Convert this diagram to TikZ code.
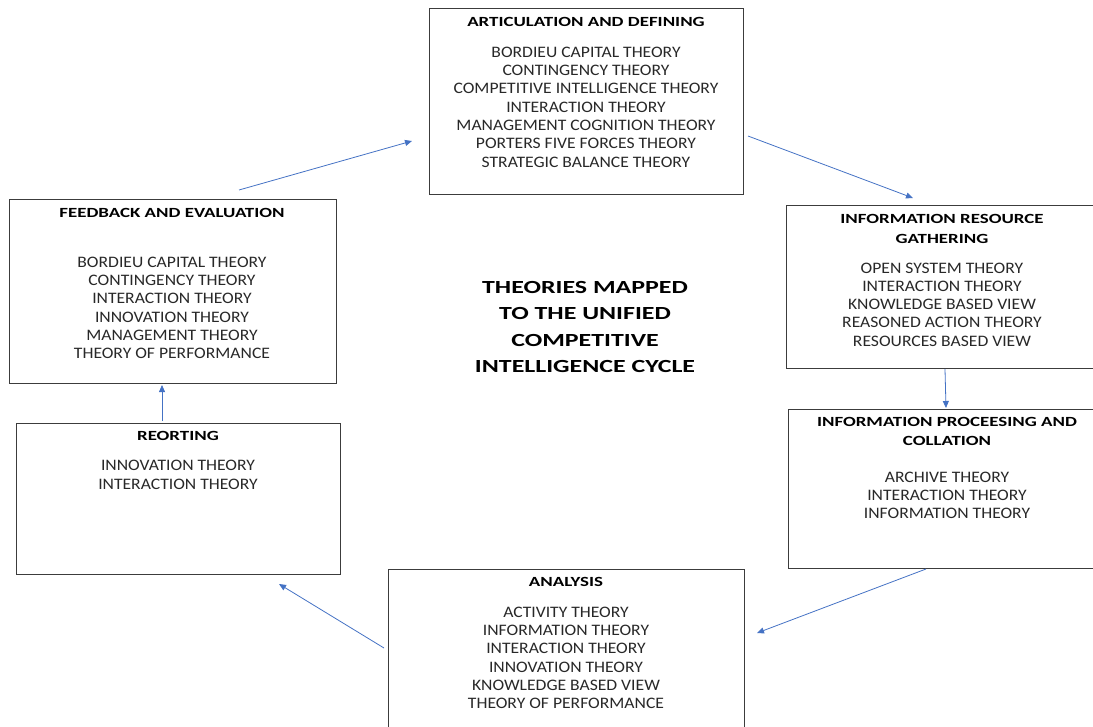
\documentclass[tikz,border=0pt]{standalone}
\usepackage{fontspec}
\setmainfont{Carlito}
\newfontfamily\bodyfont[FakeStretch=1.10]{Carlito}
\newfontfamily\headfont[FakeStretch=1.35]{Carlito}
\newfontfamily\titlefont[FakeStretch=1.40]{Carlito}
\usetikzlibrary{arrows.meta}
\definecolor{arrowblue}{RGB}{68,114,196}
\definecolor{boxline}{RGB}{60,60,60}
\definecolor{bodytext}{RGB}{40,40,40}
\tikzset{
  x=1pt, y=-1pt,
  stagebox/.style={draw=boxline, line width=1pt, inner sep=0pt, anchor=north west},
  heading/.style={font=\headfont\bfseries\fontsize{14}{19.5}\selectfont, align=center, text=black, inner sep=0pt},
  body/.style={font=\bodyfont\fontsize{16}{18.3}\selectfont, align=center, text=bodytext, inner sep=0pt},
  maintitle/.style={font=\titlefont\bfseries\fontsize{18.5}{26.5}\selectfont, align=center, text=black, inner sep=0pt},
  flow/.style={draw=arrowblue, line width=0.8pt, -{Triangle[length=7pt,width=6pt]}},
}
\begin{document}
\begin{tikzpicture}
\useasboundingbox (0,0) rectangle (1093,726);

% stage frames
\node[stagebox, minimum width=314pt, minimum height=186pt] (artbox) at (429,8) {};
\node[stagebox, minimum width=312pt, minimum height=163pt] (gatbox) at (786,205) {};
\node[stagebox, minimum width=318pt, minimum height=159pt] (procbox) at (788,409) {};
\node[stagebox, minimum width=356pt, minimum height=170pt] (anabox) at (388,569) {};
\node[stagebox, minimum width=324pt, minimum height=151pt] (repbox) at (16,423) {};
\node[stagebox, minimum width=327pt, minimum height=184pt] (feedbox) at (9,199) {};

% articulation and defining
\node[heading] (arthead) at (586,22) {ARTICULATION AND DEFINING};
\node[body] (artlist) at (586,107) {BORDIEU CAPITAL THEORY\\CONTINGENCY THEORY\\COMPETITIVE INTELLIGENCE THEORY\\INTERACTION THEORY\\MANAGEMENT COGNITION THEORY\\PORTERS FIVE FORCES THEORY\\STRATEGIC BALANCE THEORY};

% information resource gathering
\node[heading] (gathead) at (942,229) {INFORMATION RESOURCE\\GATHERING};
\node[body] (gatlist) at (942,304.5) {OPEN SYSTEM THEORY\\INTERACTION THEORY\\KNOWLEDGE BASED VIEW\\REASONED ACTION THEORY\\RESOURCES BASED VIEW};

% information processing and collation
\node[heading] (prochead) at (947,431.5) {INFORMATION PROCEESING AND\\COLLATION};
\node[body] (proclist) at (947,495.5) {ARCHIVE THEORY\\INTERACTION THEORY\\INFORMATION THEORY};

% analysis
\node[heading] (anahead) at (566,582) {ANALYSIS};
\node[body] (analist) at (566,658) {ACTIVITY THEORY\\INFORMATION THEORY\\INTERACTION THEORY\\INNOVATION THEORY\\KNOWLEDGE BASED VIEW\\THEORY OF PERFORMANCE};

% reporting
\node[heading] (rephead) at (178,436) {REORTING};
\node[body] (replist) at (178,475) {INNOVATION THEORY\\INTERACTION THEORY};

% feedback and evaluation
\node[heading] (feedhead) at (172,213) {FEEDBACK AND EVALUATION};
\node[body] (feedlist) at (172,308) {BORDIEU CAPITAL THEORY\\CONTINGENCY THEORY\\INTERACTION THEORY\\INNOVATION THEORY\\MANAGEMENT THEORY\\THEORY OF PERFORMANCE};

% centre caption
\node[maintitle] (caption) at (585,327) {THEORIES MAPPED\\TO THE UNIFIED\\COMPETITIVE\\INTELLIGENCE CYCLE};

% connector end points, just off the frames
\coordinate (feedout) at (239,190);
\coordinate (artin) at (412,141);
\coordinate (artout) at (748,136);
\coordinate (gatin) at (913,198);
\coordinate (gatout) at (945,369);
\coordinate (procin) at (946,408);
\coordinate (procout) at (926,569);
\coordinate (anain) at (757,633);
\coordinate (anaout) at (384,648);
\coordinate (repin) at (279,584);
\coordinate (repout) at (162,421);
\coordinate (feedin) at (162,385);

% cycle connectors
\draw[flow] (feedout) -- (artin);
\draw[flow] (artout) -- (gatin);
\draw[flow] (gatout) -- (procin);
\draw[flow] (procout) -- (anain);
\draw[flow] (anaout) -- (repin);
\draw[flow] (repout) -- (feedin);
\end{tikzpicture}
\end{document}
